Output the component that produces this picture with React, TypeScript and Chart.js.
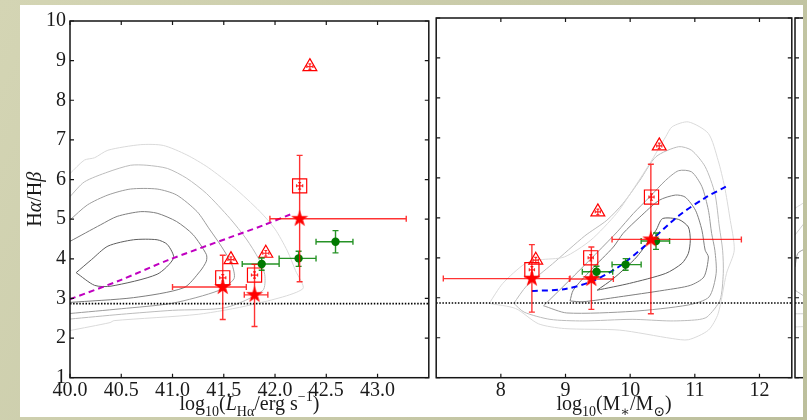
import { useEffect, useRef } from "react";
import { Chart, registerables } from "chart.js";

Chart.register(...registerables);

const SERIF = '"Liberation Serif", "DejaVu Serif", serif';

// ---- axes ----
const LUM_TICKS = [40.0, 40.5, 41.0, 41.5, 42.0, 42.5, 43.0];
const MASS_TICKS = [8, 9, 10, 11, 12];
const DEC_TICKS = [1, 2, 3, 4, 5, 6, 7, 8, 9, 10];
const CASE_B_DECREMENT = 2.87;

// ---- Hα luminosity panel ----
// [x, y, xLow, xHigh, yLow, yHigh]
const LUM_STARS = [
  [41.49, 3.29, 41.0, 41.72, 2.47, 4.09],
  [41.8, 3.09, 41.7, 41.93, 2.29, 3.86],
  [42.24, 5.01, 41.95, 43.28, 3.42, 6.61],
];
const LUM_SQUARES = [
  [41.49, 3.52, 41.46, 41.52, 3.44, 3.6],
  [41.8, 3.59, 41.77, 41.83, 3.51, 3.67],
  [42.24, 5.84, 42.21, 42.27, 5.76, 5.92],
];
const LUM_TRIANGLES = [
  [41.57, 3.98, 41.54, 41.6, 3.91, 4.05],
  [41.91, 4.14, 41.88, 41.94, 4.07, 4.21],
  [42.34, 8.85, 42.31, 42.37, 8.78, 8.92],
];
const LUM_BINS = [
  [41.87, 3.87, 41.68, 42.04, 3.71, 4.02],
  [42.23, 4.01, 42.04, 42.4, 3.81, 4.19],
  [42.59, 4.43, 42.4, 42.76, 4.15, 4.71],
];
const LUM_FIT = [
  [40.0, 2.98], [40.5, 3.47], [40.95, 3.96], [41.56, 4.54], [41.88, 4.84], [42.15, 5.12],
];
// density contours, outermost level first
const LUM_CONTOURS = [
  [[40.0, 6.15], [40.14, 6.49], [40.24, 6.55], [40.37, 6.74], [40.69, 6.88], [40.91, 6.86], [41.14, 6.62], [41.35, 6.3], [41.6, 5.8], [41.85, 5.2], [42.0, 4.75], [42.12, 4.2], [42.2, 3.7], [42.27, 3.24], [41.77, 2.84], [41.25, 2.6], [40.43, 2.44], [40.39, 2.39], [40.0, 2.19]],
  [[40.0, 5.57], [40.14, 5.94], [40.37, 6.19], [40.59, 6.36], [40.75, 6.36], [40.95, 6.28], [41.14, 6.03], [41.33, 5.65], [41.56, 5.02], [41.72, 4.5], [41.84, 4.0], [41.9, 3.6], [41.88, 3.2], [41.52, 2.77], [41.0, 2.7], [40.5, 2.6], [40.0, 2.48]],
  [[40.0, 4.98], [40.17, 5.36], [40.37, 5.61], [40.59, 5.76], [40.85, 5.76], [41.04, 5.61], [41.24, 5.19], [41.36, 4.75], [41.48, 4.3], [41.58, 3.85], [41.6, 3.5], [41.45, 3.2], [41.0, 2.88], [40.5, 2.74], [40.0, 2.62]],
  [[40.0, 4.44], [40.3, 4.86], [40.46, 5.07], [40.69, 5.19], [40.85, 5.15], [41.04, 4.94], [41.2, 4.61], [41.33, 4.11], [41.33, 3.94], [41.27, 3.69], [41.11, 3.27], [40.62, 3.02], [40.0, 2.9]],
  [[40.06, 3.65], [40.21, 3.98], [40.37, 4.32], [40.62, 4.48], [40.85, 4.48], [40.95, 4.36], [41.01, 4.02], [40.85, 3.61], [40.4, 3.31], [40.24, 3.33], [40.06, 3.65]],
];

// ---- stellar mass panel ----
const MASS_STARS = [
  [8.48, 3.48, 7.11, 9.07, 2.64, 4.33],
  [9.4, 3.47, 9.06, 9.74, 2.71, 4.27],
  [10.32, 4.46, 9.72, 11.72, 2.6, 6.34],
];
const MASS_SQUARES = [
  [8.48, 3.7, 8.44, 8.52, 3.62, 3.78],
  [9.39, 4.0, 9.35, 9.43, 3.92, 4.08],
  [10.33, 5.52, 10.29, 10.37, 5.44, 5.6],
];
const MASS_TRIANGLES = [
  [8.54, 3.94, 8.5, 8.58, 3.87, 4.01],
  [9.5, 5.15, 9.46, 9.54, 5.08, 5.22],
  [10.45, 6.8, 10.41, 10.49, 6.73, 6.87],
];
const MASS_BINS = [
  [9.48, 3.65, 9.26, 9.73, 3.52, 3.79],
  [9.93, 3.83, 9.72, 10.17, 3.69, 3.98],
  [10.4, 4.42, 10.17, 10.61, 4.21, 4.62],
];
const MASS_FIT = [
  [8.48, 3.17], [9.0, 3.22], [9.42, 3.42], [9.82, 3.77], [10.23, 4.3], [10.75, 5.05], [11.16, 5.5], [11.48, 5.78],
];
const MASS_CONTOURS = [
  [[7.82, 2.86], [8.03, 3.36], [8.38, 3.86], [8.6, 3.95], [8.98, 4.02], [9.39, 4.44], [9.79, 5.11], [10.0, 5.6], [10.3, 6.35], [10.55, 7.03], [10.65, 7.28], [10.9, 7.4], [11.21, 7.11], [11.36, 6.44], [11.46, 5.78], [11.54, 5.02], [11.61, 4.19], [11.49, 3.61], [11.36, 2.6], [11.21, 2.19], [10.9, 1.95], [10.65, 1.98], [9.84, 2.19], [8.98, 2.23], [8.58, 2.35], [8.23, 2.73], [7.82, 2.86]],
  [[8.2, 2.86], [8.4, 3.3], [8.8, 3.85], [9.3, 4.55], [9.64, 4.94], [9.89, 5.36], [10.15, 5.94], [10.4, 6.53], [10.75, 6.78], [10.95, 6.69], [11.16, 6.28], [11.31, 5.61], [11.38, 4.77], [11.43, 4.19], [11.44, 3.61], [11.39, 2.94], [11.19, 2.52], [11.04, 2.45], [10.63, 2.42], [10.03, 2.46], [9.27, 2.42], [8.76, 2.46], [8.36, 2.64], [8.2, 2.86]],
  [[8.66, 2.8], [8.85, 3.1], [9.1, 3.5], [9.5, 4.15], [9.8, 4.65], [10.05, 5.11], [10.3, 5.52], [10.55, 5.94], [10.75, 6.18], [10.95, 6.15], [11.11, 5.78], [11.21, 5.19], [11.26, 4.61], [11.31, 4.19], [11.33, 3.61], [11.22, 3.02], [10.9, 2.82], [10.03, 2.66], [9.02, 2.62], [8.66, 2.8]],
  [[9.07, 2.92], [9.12, 3.19], [9.39, 3.69], [9.74, 4.27], [9.89, 4.61], [10.15, 5.02], [10.45, 5.44], [10.7, 5.57], [10.85, 5.52], [11.01, 5.19], [11.11, 4.69], [11.16, 4.19], [11.21, 4.02], [11.14, 3.52], [10.93, 3.31], [10.53, 3.19], [9.82, 3.02], [9.27, 2.9], [9.07, 2.92]],
  [[9.49, 3.19], [9.74, 3.48], [10.1, 4.02], [10.4, 4.69], [10.5, 4.98], [10.75, 4.96], [10.9, 4.77], [10.93, 4.44], [10.9, 4.11], [10.8, 3.86], [10.55, 3.61], [9.99, 3.36], [9.49, 3.19]],
];

// ---- next panel (only its left edge is on the slide) ----
const EDGE_CONTOURS = [
  [[7.0, 2.27], [7.15, 2.28]],
  [[7.0, 2.6], [7.15, 2.6]],
  [[7.0, 3.19], [7.15, 3.02]],
  [[7.0, 3.77], [7.04, 4.11], [7.15, 4.23]],
  [[7.0, 4.57], [7.15, 4.9]],
  [[7.0, 5.24], [7.15, 5.4]],
];
const EDGE_SHADES = ["#dadada", "#cfcfcf", "#bdbdbd", "#9e9e9e", "#cfcfcf", "#dadada"];

const CONTOUR_SHADES = ["#dadada", "#bcbcbc", "#9c9c9c", "#7e7e7e", "#5e5e5e"];

type Part = { t: string; sub?: boolean; sup?: boolean; it?: boolean };

const LUM_TITLE: Part[] = [
  { t: "log" }, { t: "10", sub: true }, { t: "(" }, { t: "L", it: true },
  { t: "Hα", sub: true }, { t: "/erg s" }, { t: "−1", sup: true }, { t: ")" },
];
const MASS_TITLE: Part[] = [
  { t: "log" }, { t: "10", sub: true }, { t: "(M" }, { t: "∗", sub: true },
  { t: "/M" }, { t: "⊙", sub: true }, { t: ")" },
];
const DEC_TITLE: Part[] = [{ t: "H" }, { t: "α", it: true }, { t: "/H" }, { t: "β", it: true }];

function drawRich(ctx: CanvasRenderingContext2D, parts: Part[], cx: number, base: number, size: number) {
  const items = parts.map((p) => {
    const s = p.sub || p.sup ? Math.round(size * 0.7) : size;
    const font = `${p.it ? "italic " : ""}${s}px ${SERIF}`;
    ctx.font = font;
    return { ...p, font, w: ctx.measureText(p.t).width };
  });
  const total = items.reduce((a, b) => a + b.w, 0);
  let x = cx - total / 2;
  ctx.textBaseline = "alphabetic";
  ctx.textAlign = "left";
  for (const it of items) {
    ctx.font = it.font;
    const dy = it.sub ? size * 0.3 : it.sup ? -size * 0.42 : 0;
    ctx.fillText(it.t, x, base + dy);
    x += it.w;
  }
}

const richTitles = {
  id: "richTitles",
  afterDraw(chart: any, _args: any, opts: any) {
    const { ctx, chartArea: a } = chart;
    ctx.save();
    ctx.fillStyle = "#1a1a1a";
    if (opts.x) drawRich(ctx, opts.x, (a.left + a.right) / 2, a.bottom + 32, 20);
    if (opts.y) {
      ctx.translate(opts.yAt, (a.top + a.bottom) / 2);
      ctx.rotate(-Math.PI / 2);
      drawRich(ctx, opts.y, 0, 0, 20);
    }
    ctx.restore();
  },
};

const errorBars = {
  id: "errorBars",
  beforeDatasetDraw(chart: any, args: any) {
    const ds = chart.data.datasets[args.index];
    const rows: number[][] | undefined = ds.errorRows;
    if (!rows) return;
    const xs = chart.scales.x;
    const ys = chart.scales.y;
    const ctx = chart.ctx;
    const a = chart.chartArea;
    const cap = ds.errorCap ?? 3;
    ctx.save();
    ctx.beginPath();
    ctx.rect(a.left, a.top, a.width, a.height);
    ctx.clip();
    ctx.strokeStyle = ds.errorColor;
    ctx.lineWidth = ds.errorWidth ?? 1.3;
    ctx.beginPath();
    for (const r of rows) {
      const px = xs.getPixelForValue(r[0]);
      const py = ys.getPixelForValue(r[1]);
      const xl = xs.getPixelForValue(r[2]);
      const xh = xs.getPixelForValue(r[3]);
      const yl = ys.getPixelForValue(r[4]);
      const yh = ys.getPixelForValue(r[5]);
      ctx.moveTo(xl, py); ctx.lineTo(xh, py);
      ctx.moveTo(px, yl); ctx.lineTo(px, yh);
      if (cap > 0) {
        ctx.moveTo(xl, py - cap); ctx.lineTo(xl, py + cap);
        ctx.moveTo(xh, py - cap); ctx.lineTo(xh, py + cap);
        ctx.moveTo(px - cap, yl); ctx.lineTo(px + cap, yl);
        ctx.moveTo(px - cap, yh); ctx.lineTo(px + cap, yh);
      }
    }
    ctx.stroke();
    ctx.restore();
  },
};

// axes box with inward ticks on all four sides
const frame = {
  id: "frame",
  afterDatasetsDraw(chart: any) {
    const { ctx, chartArea: a, scales } = chart;
    const L = 4;
    ctx.save();
    ctx.strokeStyle = "#151515";
    ctx.lineWidth = 1.2;
    ctx.beginPath();
    for (const t of scales.x.ticks) {
      const p = scales.x.getPixelForValue(t.value);
      ctx.moveTo(p, a.bottom); ctx.lineTo(p, a.bottom - L);
      ctx.moveTo(p, a.top); ctx.lineTo(p, a.top + L);
    }
    for (const t of scales.y.ticks) {
      const p = scales.y.getPixelForValue(t.value);
      ctx.moveTo(a.left, p); ctx.lineTo(a.left + L, p);
      ctx.moveTo(a.right, p); ctx.lineTo(a.right - L, p);
    }
    ctx.stroke();
    ctx.lineWidth = 1.5;
    ctx.strokeRect(a.left, a.top, a.right - a.left, a.bottom - a.top);
    ctx.restore();
  },
};

function makeStar(r: number, color: string) {
  const c = document.createElement("canvas");
  const s = Math.ceil(r * 2 + 2);
  c.width = s;
  c.height = s;
  const g = c.getContext("2d")!;
  g.fillStyle = color;
  g.beginPath();
  for (let i = 0; i < 10; i++) {
    const rad = i % 2 ? r * 0.382 : r;
    const ang = -Math.PI / 2 + (i * Math.PI) / 5;
    const x = s / 2 + rad * Math.cos(ang);
    const y = s / 2 + rad * Math.sin(ang);
    if (i) g.lineTo(x, y);
    else g.moveTo(x, y);
  }
  g.closePath();
  g.fill();
  return c;
}

const pts = (rows: number[][]) => rows.map((r) => ({ x: r[0], y: r[1] }));

interface PanelSpec {
  xMin: number;
  xMax: number;
  xTicks: number[];
  fmt: (v: number) => string;
  showTickLabels: boolean;
  yLabels: boolean;
  yAxisW: number;
  contours: number[][][];
  shades: string[];
  stars?: number[][];
  squares?: number[][];
  triangles?: number[][];
  bins?: number[][];
  fit?: number[][];
  fitColor?: string;
  xTitle?: Part[];
  yTitle?: Part[];
}

function panelConfig(p: PanelSpec, star: HTMLCanvasElement): any {
  const datasets: any[] = [];
  p.contours.forEach((c, i) =>
    datasets.push({
      data: pts(c), showLine: true, pointRadius: 0, borderColor: p.shades[i],
      borderWidth: 1, tension: 0.25, order: 30,
    })
  );
  datasets.push({
    data: [{ x: p.xMin, y: CASE_B_DECREMENT }, { x: p.xMax, y: CASE_B_DECREMENT }],
    showLine: true, pointRadius: 0, borderColor: "#000", borderWidth: 1.6,
    borderDash: [1.5, 1.6], order: 25,
  });
  if (p.fit)
    datasets.push({
      data: pts(p.fit), showLine: true, pointRadius: 0, borderColor: p.fitColor,
      borderWidth: 2, borderDash: [6, 4], tension: 0.3, order: 20,
    });
  if (p.squares)
    datasets.push({
      data: pts(p.squares), pointStyle: "rect", pointRadius: 10, borderColor: "#ff0000",
      backgroundColor: "rgba(0,0,0,0)", borderWidth: 1.2, order: 10,
      errorRows: p.squares, errorColor: "rgba(255,0,0,0.85)", errorCap: 1.5, errorWidth: 1.2,
    });
  if (p.triangles)
    datasets.push({
      data: pts(p.triangles), pointStyle: "triangle", pointRadius: 8, borderColor: "#ff0000",
      backgroundColor: "rgba(0,0,0,0)", borderWidth: 1.2, order: 9,
      errorRows: p.triangles, errorColor: "rgba(255,0,0,0.85)", errorCap: 1.5, errorWidth: 1.2,
    });
  if (p.bins)
    datasets.push({
      data: pts(p.bins), pointStyle: "circle", pointRadius: 4.2, borderColor: "#007a00",
      backgroundColor: "#007a00", borderWidth: 0, order: 6,
      errorRows: p.bins, errorColor: "rgba(0,128,0,0.85)", errorCap: 3, errorWidth: 1.4,
    });
  if (p.stars)
    datasets.push({
      data: pts(p.stars), pointStyle: star, pointRadius: 9, order: 3,
      errorRows: p.stars, errorColor: "rgba(255,0,0,0.8)", errorCap: 3, errorWidth: 1.4,
    });

  const tickFont = { family: SERIF, size: 20 };
  return {
    type: "scatter",
    data: { datasets },
    plugins: [errorBars, frame, richTitles],
    options: {
      animation: false,
      responsive: false,
      devicePixelRatio: 1,
      events: [],
      layout: { padding: { top: 13, right: 8, left: 0, bottom: 0 } },
      plugins: {
        legend: { display: false },
        tooltip: { enabled: false },
        richTitles: { x: p.xTitle, y: p.yTitle, yAt: 21 },
      },
      scales: {
        x: {
          type: "linear",
          min: p.xMin,
          max: p.xMax,
          grid: { display: false, drawTicks: false },
          border: { display: false },
          afterBuildTicks: (s: any) => {
            s.ticks = p.xTicks.map((v) => ({ value: v }));
          },
          afterFit: (s: any) => {
            s.height = 39.3;
          },
          ticks: {
            display: p.showTickLabels,
            autoSkip: false,
            maxRotation: 0,
            padding: 1,
            color: "#1a1a1a",
            font: tickFont,
            callback: (v: any) => p.fmt(Number(v)),
          },
        },
        y: {
          type: "linear",
          min: 1,
          max: 10,
          grid: { display: false, drawTicks: false },
          border: { display: false },
          afterBuildTicks: (s: any) => {
            s.ticks = DEC_TICKS.map((v) => ({ value: v }));
          },
          afterFit: (s: any) => {
            s.width = p.yAxisW;
          },
          ticks: {
            display: p.yLabels,
            autoSkip: false,
            padding: 4,
            color: "#1a1a1a",
            font: tickFont,
          },
        },
      },
    },
  };
}

function Panel({ spec, left, width }: { spec: PanelSpec; left: number; width: number }) {
  const ref = useRef<HTMLCanvasElement>(null);
  useEffect(() => {
    const star = makeStar(9, "#ff0000");
    const chart = new Chart(ref.current!, panelConfig(spec, star));
    return () => chart.destroy();
  }, []);
  return (
    <canvas
      ref={ref}
      width={width}
      height={412}
      style={{ position: "absolute", left, top: 0, width, height: 412 }}
    />
  );
}

const LUM_PANEL: PanelSpec = {
  xMin: 40.0, xMax: 43.5, xTicks: LUM_TICKS, fmt: (v) => v.toFixed(1),
  showTickLabels: true, yLabels: true, yAxisW: 50,
  contours: LUM_CONTOURS, shades: CONTOUR_SHADES,
  stars: LUM_STARS, squares: LUM_SQUARES, triangles: LUM_TRIANGLES, bins: LUM_BINS,
  fit: LUM_FIT, fitColor: "#c000c0", xTitle: LUM_TITLE, yTitle: DEC_TITLE,
};

const MASS_PANEL: PanelSpec = {
  xMin: 7.0, xMax: 12.5, xTicks: MASS_TICKS, fmt: (v) => String(v),
  showTickLabels: true, yLabels: false, yAxisW: 7.3,
  contours: MASS_CONTOURS, shades: CONTOUR_SHADES,
  stars: MASS_STARS, squares: MASS_SQUARES, triangles: MASS_TRIANGLES, bins: MASS_BINS,
  fit: MASS_FIT, fitColor: "#0000ff", xTitle: MASS_TITLE,
};

const EDGE_PANEL: PanelSpec = {
  xMin: 7.0, xMax: 12.5, xTicks: MASS_TICKS, fmt: (v) => String(v),
  showTickLabels: false, yLabels: false, yAxisW: 5,
  contours: EDGE_CONTOURS, shades: EDGE_SHADES,
};

export default function App() {
  return (
    <div
      style={{
        position: "absolute",
        left: 0,
        top: 0,
        width: 807,
        height: 420,
        background: "linear-gradient(120deg, #d4d5b4 0%, #c6c8a6 60%, #bcbf9c 100%)",
        overflow: "hidden",
      }}
    >
      <div
        style={{
          position: "absolute",
          left: 20,
          top: 5,
          width: 783,
          height: 412,
          background: "#ffffff",
          overflow: "hidden",
        }}
      >
        <Panel spec={LUM_PANEL} left={0} width={420} />
        <Panel spec={MASS_PANEL} left={405} width={378} />
        <Panel spec={EDGE_PANEL} left={770} width={390} />
      </div>
    </div>
  );
}
